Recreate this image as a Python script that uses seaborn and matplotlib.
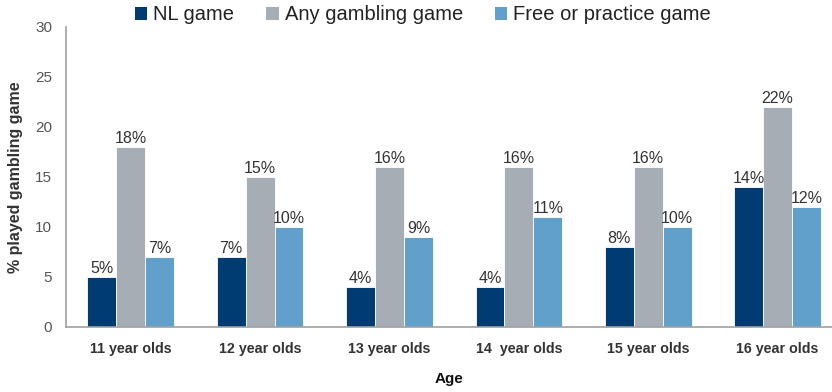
import matplotlib
matplotlib.use("Agg")
import matplotlib.pyplot as plt
import seaborn as sns
import pandas as pd
from matplotlib.patches import Patch

ages = ["11 year olds", "12 year olds", "13 year olds", "14  year olds", "15 year olds", "16 year olds"]
series = ["NL game", "Any gambling game", "Free or practice game"]
nl_game = [5, 7, 4, 4, 8, 14]
any_gambling = [18, 15, 16, 16, 16, 22]
free_practice = [7, 10, 9, 11, 10, 12]
colors = ["#003C71", "#A6ADB5", "#62A0CC"]

rows = []
for s, vals in zip(series, [nl_game, any_gambling, free_practice]):
    for a, v in zip(ages, vals):
        rows.append({"Age": a, "Game": s, "Value": v})
df = pd.DataFrame(rows)

sns.set_theme(style="white")
plt.rcParams["font.family"] = ["Liberation Sans", "DejaVu Sans"]

fig = plt.figure(figsize=(8.32, 3.92), dpi=100)
ax = fig.add_axes([66 / 832, 1 - 327 / 392, 1 - 66 / 832, 300 / 392])

sns.barplot(data=df, x="Age", y="Value", hue="Game", hue_order=series,
            palette=colors, width=0.67, saturation=1, ax=ax, legend=False,
            edgecolor="white", linewidth=0.6)

for cont in ax.containers:
    ax.bar_label(cont, labels=[f"{int(round(b.get_height()))}%" for b in cont],
                 padding=0.5, fontsize=11.5, color="#333333")

ax.set_ylim(0, 30)
ax.set_yticks(range(0, 31, 5))
ax.set_xlim(-0.5, 5.42)
ax.tick_params(axis="y", length=0, labelsize=11, labelcolor="#555555", pad=10)
ax.tick_params(axis="x", length=0, labelsize=10.3, labelcolor="#333333", pad=11)
for lbl in ax.get_xticklabels():
    lbl.set_fontweight("bold")

for side in ["top", "right"]:
    ax.spines[side].set_visible(False)
for side in ["left", "bottom"]:
    ax.spines[side].set_color("#A0A0A0")
    ax.spines[side].set_linewidth(1.2)

ax.set_ylabel("% played gambling game", fontsize=11.5, fontweight="bold", color="#333333", labelpad=9)
ax.set_xlabel("Age", fontsize=11, fontweight="bold", color="#111111", labelpad=11)

handles = [Patch(facecolor=c, edgecolor="none") for c in colors]
fig.legend(handles, series, loc="center", bbox_to_anchor=(423 / 832, 1 - 15 / 392),
           ncol=3, frameon=False, fontsize=14.5, handlelength=0.6, handleheight=0.6,
           handletextpad=0.3, columnspacing=1.6, labelcolor="#222222")

fig.savefig("out.png", dpi=100)
